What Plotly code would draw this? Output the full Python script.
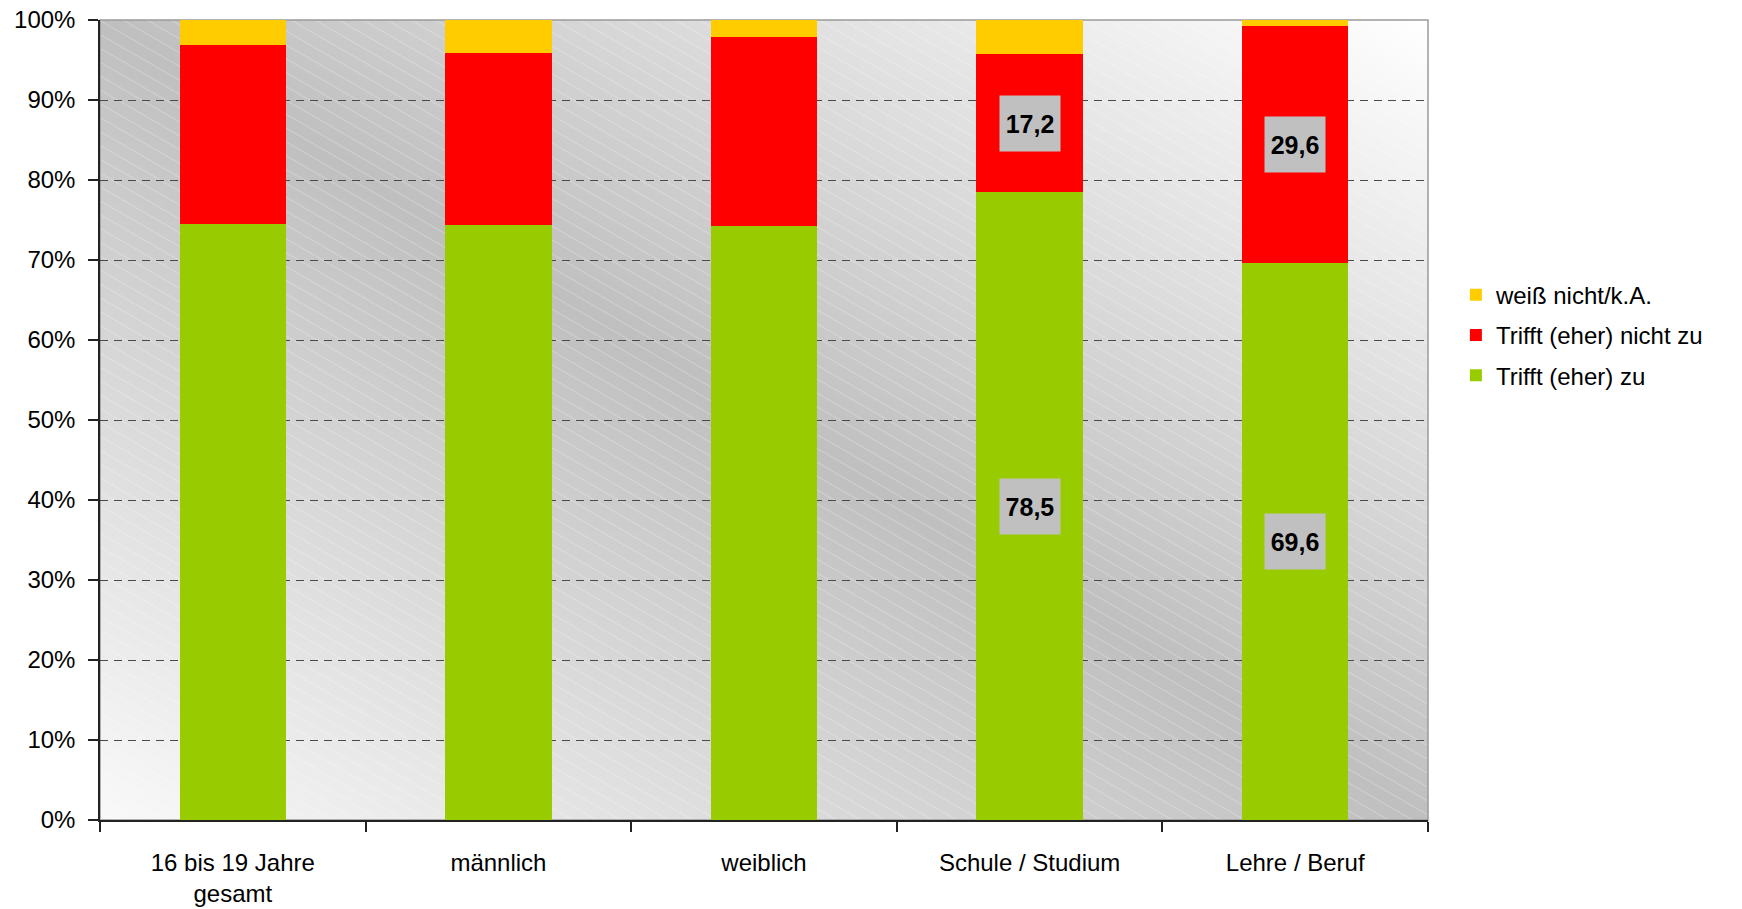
import base64
import plotly.graph_objects as go

categories = ["16 bis 19 Jahre<br>gesamt", "männlich", "weiblich", "Schule / Studium", "Lehre / Beruf"]
trifft_zu = [74.5, 74.4, 74.3, 78.5, 69.6]
trifft_nicht_zu = [22.4, 21.5, 23.6, 17.2, 29.6]
weiss_nicht = [3.1, 4.1, 2.1, 4.3, 0.8]
labelled = [False, False, False, True, True]
y_ticks = [0, 10, 20, 30, 40, 50, 60, 70, 80, 90, 100]
y_ticktext = [f"{v}%" for v in y_ticks]

FONT = "Liberation Sans, Arial, Helvetica, sans-serif"
W, H = 1742, 909
ML, MR, MT, MB = 100, 314, 20, 89
PW, PH = W - ML - MR, H - MT - MB

svg = f'''<svg xmlns="http://www.w3.org/2000/svg" width="{PW}" height="{PH}" viewBox="0 0 {PW} {PH}" preserveAspectRatio="none">
<defs>
<linearGradient id="g" x1="0" y1="1" x2="1" y2="0">
<stop offset="0" stop-color="#f9f9f9"/>
<stop offset="0.5" stop-color="#bfbfbf"/>
<stop offset="1" stop-color="#ffffff"/>
</linearGradient>
<pattern id="p" patternUnits="userSpaceOnUse" width="40" height="12" patternTransform="rotate(30)">
<line x1="0" y1="0.5" x2="40" y2="0.5" stroke="#ffffff" stroke-opacity="0.25" stroke-width="1"/>
</pattern>
</defs>
<rect x="0" y="0" width="{PW}" height="{PH}" fill="url(#g)"/>
<rect x="0" y="0" width="{PW}" height="{PH}" fill="url(#p)"/>
</svg>'''
bg_uri = "data:image/svg+xml;base64," + base64.b64encode(svg.encode("utf-8")).decode("ascii")

fig = go.Figure()
series = [
    ("Trifft (eher) zu", trifft_zu, "#99cc00", 3),
    ("Trifft (eher) nicht zu", trifft_nicht_zu, "#ff0000", 2),
    ("weiß nicht/k.A.", weiss_nicht, "#ffcc00", 1),
]
for name, vals, col, rank in series:
    fig.add_trace(go.Bar(
        x=categories, y=vals, name=name, marker=dict(color=col, line=dict(width=0)),
        legendgroup=name, legendrank=rank, hoverinfo="skip",
    ))

annotations = []
for i, cat in enumerate(categories):
    if not labelled[i]:
        continue
    for base, v in [(0, trifft_zu[i]), (trifft_zu[i], trifft_nicht_zu[i])]:
        annotations.append(dict(
            x=cat, y=base + v / 2, xref="x", yref="y",
            text=f"<b>{v:.1f}</b>".replace(".", ","), showarrow=False,
            font=dict(family=FONT, size=25, color="#000000"),
            bgcolor="#c0c0c0", width=58, height=53, align="center", valign="middle",
        ))

fig.update_layout(
    width=W, height=H,
    margin=dict(l=ML, r=MR, t=MT, b=MB, pad=0, autoexpand=False),
    paper_bgcolor="#ffffff", plot_bgcolor="rgba(0,0,0,0)",
    barmode="stack", bargap=0.6,
    font=dict(family=FONT, size=24, color="#000000"),
    showlegend=True,
    legend=dict(
        x=1.021, y=0.606, xanchor="left", yanchor="middle",
        traceorder="grouped", tracegroupgap=6,
        font=dict(family=FONT, size=24, color="#000000"),
        bgcolor="rgba(0,0,0,0)", itemclick=False, itemdoubleclick=False,
    ),
    xaxis=dict(
        type="category", showgrid=False, showline=True, linecolor="#222222", linewidth=1.5,
        ticks="outside", tickson="boundaries", ticklen=10, tickcolor="#222222", tickwidth=1.5,
        tickfont=dict(family=FONT, size=24, color="#000000"), ticklabelstandoff=20,
        ticklabeloverflow="allow",
        zeroline=False, fixedrange=True, automargin=False,
    ),
    yaxis=dict(
        range=[0, 100], tickvals=y_ticks, ticktext=y_ticktext,
        showgrid=True, gridcolor="#4a4a4a", griddash="8px,6px", gridwidth=1,
        showline=True, linecolor="#222222", linewidth=1.5,
        ticks="outside", ticklen=10, tickcolor="#222222", tickwidth=1.5,
        tickfont=dict(family=FONT, size=24, color="#000000"), ticklabelstandoff=8,
        ticklabeloverflow="allow",
        zeroline=False, fixedrange=True, automargin=False,
    ),
    images=[dict(
        source=bg_uri, xref="paper", yref="paper", x=0, y=1, sizex=1, sizey=1,
        xanchor="left", yanchor="top", sizing="stretch", layer="below",
    )],
    shapes=[dict(
        type="rect", xref="paper", yref="paper", x0=0, x1=1, y0=0, y1=1,
        line=dict(color="#9a9a9a", width=1.5), layer="below",
    )],
    annotations=annotations,
)

fig.write_html(
    "out.html",
    config=dict(displayModeBar=False),
    post_script="document.body.style.margin='0';document.body.style.overflow='hidden';",
)
